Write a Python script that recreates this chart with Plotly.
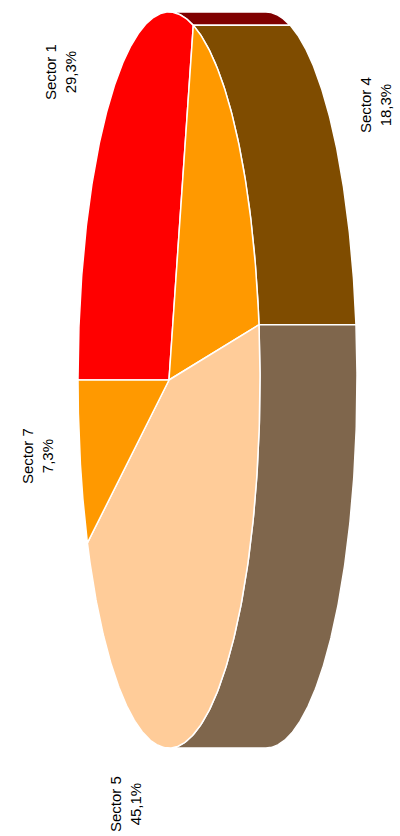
import numpy as np
import plotly.graph_objects as go

# ---- data ----
labels = ["Sector 1", "Sector 4", "Sector 5", "Sector 7"]
values = [29.3, 18.3, 45.1, 7.3]
colors = ["#ff0000", "#ff9900", "#ffcc99", "#ff9900"]

# ---- layout / geometry constants (pixels) ----
W, H = 400, 836
CX, CY = 169, 380      # centre of top face
A, B = 91, 368         # semi-axes (x squashed, y long)
DEPTH = 97             # extrusion of the 3D pie (to the right)
START = -90.0          # degrees, first slice starts here, clockwise
LABEL_POS = [(60, 72), (375, 105), (125, 804), (37, 456)]


def darker(hexc, f=0.5):
    h = hexc.lstrip("#")
    r, g, b = (int(h[i:i + 2], 16) for i in (0, 2, 4))
    return "rgb(%d,%d,%d)" % (r * f, g * f, b * f)


def pt(theta_deg, shift=0.0):
    t = np.radians(theta_deg)
    return CX + A * np.sin(t) + shift, CY - B * np.cos(t)


total = sum(values)
bounds = [START]
for v in values:
    bounds.append(bounds[-1] + 360.0 * v / total)

fig = go.Figure()

# side faces (visible for theta in [0, 180])
for i, c in enumerate(colors):
    t1, t2 = max(bounds[i], 0.0), min(bounds[i + 1], 180.0)
    if t2 <= t1:
        continue
    th = np.linspace(t1, t2, 200)
    x1, y1 = pt(th)
    x2, y2 = pt(th[::-1], DEPTH)
    xs = np.concatenate([x1, x2, x1[:1]])
    ys = np.concatenate([y1, y2, y1[:1]])
    fig.add_trace(go.Scatter(x=xs, y=ys, mode="lines", fill="toself",
                             fillcolor=darker(c), line=dict(color="white", width=1.5),
                             hoverinfo="skip", showlegend=False))

# top faces
for i, c in enumerate(colors):
    th = np.linspace(bounds[i], bounds[i + 1], 300)
    x, y = pt(th)
    xs = np.concatenate([[CX], x, [CX]])
    ys = np.concatenate([[CY], y, [CY]])
    fig.add_trace(go.Scatter(x=xs, y=ys, mode="lines", fill="toself",
                             fillcolor=c, line=dict(color="white", width=1.5),
                             hoverinfo="skip", showlegend=False))

for lab, v, (lx, ly) in zip(labels, values, LABEL_POS):
    fig.add_annotation(x=lx, y=ly, xref="x", yref="y", showarrow=False,
                       text="%s<br>%s%%" % (lab, ("%.1f" % v).replace(".", ",")),
                       textangle=-90, xanchor="center", yanchor="middle",
                       font=dict(family="Liberation Sans, Arial", size=15, color="#000000"))

fig.update_layout(width=W, height=H, margin=dict(l=0, r=0, t=0, b=0),
                  paper_bgcolor="white", plot_bgcolor="white",
                  xaxis=dict(range=[0, W], visible=False, fixedrange=True),
                  yaxis=dict(range=[H, 0], visible=False, fixedrange=True),
                  showlegend=False)

fig.write_html("out.html", config={"displayModeBar": False},
               post_script="document.body.style.margin='0';document.body.style.overflow='hidden';")
